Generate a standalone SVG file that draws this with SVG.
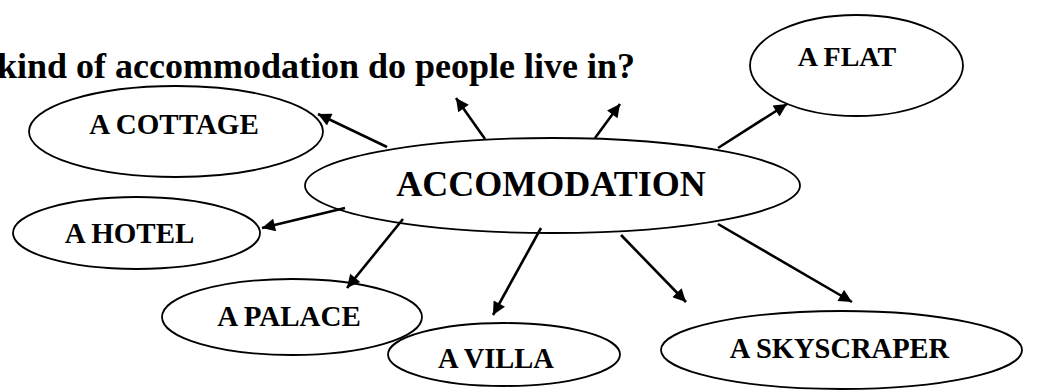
<svg xmlns="http://www.w3.org/2000/svg" width="1038" height="392" viewBox="0 0 1038 392">
<defs>
<marker id="ah" viewBox="0 0 10 10" refX="10" refY="5" markerWidth="6" markerHeight="5" markerUnits="strokeWidth" orient="auto">
<path d="M0,0 L10,5 L0,10 z" fill="#000"/>
</marker>
<style>
.node ellipse{fill:#fff;stroke:#000;stroke-width:1.8}
text{font-family:"Liberation Serif",Tinos,"Times New Roman",Times,"Nimbus Roman","Nimbus Roman No9 L",FreeSerif,"DejaVu Serif",serif;font-weight:bold;fill:#000}
.lbl{font-size:29px;text-anchor:middle}
.title{font-size:36px}
.conn line{stroke:#000;stroke-width:2.6;marker-end:url(#ah)}
</style>
</defs>
<rect width="1038" height="392" fill="#fff"/>
<text class="title" x="-3" y="78">kind of accommodation do people live in?</text>
<g id="n-center" class="node"><ellipse cx="552.5" cy="185.5" rx="247.5" ry="47.5"/><text class="lbl" x="551" y="196" style="font-size:36px">ACCOMODATION</text></g>
<g id="n-cottage" class="node"><ellipse cx="176" cy="131.5" rx="147" ry="45.5"/><text class="lbl" x="174" y="134">A COTTAGE</text></g>
<g id="n-flat" class="node"><ellipse cx="856.5" cy="65.5" rx="106.5" ry="50.5"/><text class="lbl" x="847" y="66" style="font-size:28px">A FLAT</text></g>
<g id="n-hotel" class="node"><ellipse cx="136.5" cy="233" rx="123.5" ry="36"/><text class="lbl" x="129.5" y="243">A HOTEL</text></g>
<g id="n-palace" class="node"><ellipse cx="292" cy="317" rx="130" ry="38"/><text class="lbl" x="289" y="326">A PALACE</text></g>
<g id="n-villa" class="node"><ellipse cx="504" cy="354.5" rx="116" ry="31.5"/><text class="lbl" x="496" y="368" style="font-size:28.5px">A VILLA</text></g>
<g id="n-skyscraper" class="node"><ellipse cx="841.5" cy="350" rx="180.5" ry="39"/><text class="lbl" x="839.5" y="358" style="font-size:28.5px">A SKYSCRAPER</text></g>
<g id="connectors" class="conn">
<line x1="387" y1="147" x2="318" y2="114"/>
<line x1="485" y1="139" x2="456" y2="98"/>
<line x1="595" y1="138" x2="620" y2="104"/>
<line x1="718" y1="148" x2="787" y2="104"/>
<line x1="345" y1="208" x2="262" y2="228"/>
<line x1="403" y1="219" x2="347" y2="288"/>
<line x1="541" y1="228" x2="493" y2="315"/>
<line x1="621" y1="235" x2="686" y2="302"/>
<line x1="718" y1="224" x2="852" y2="302"/>
</g>
</svg>
